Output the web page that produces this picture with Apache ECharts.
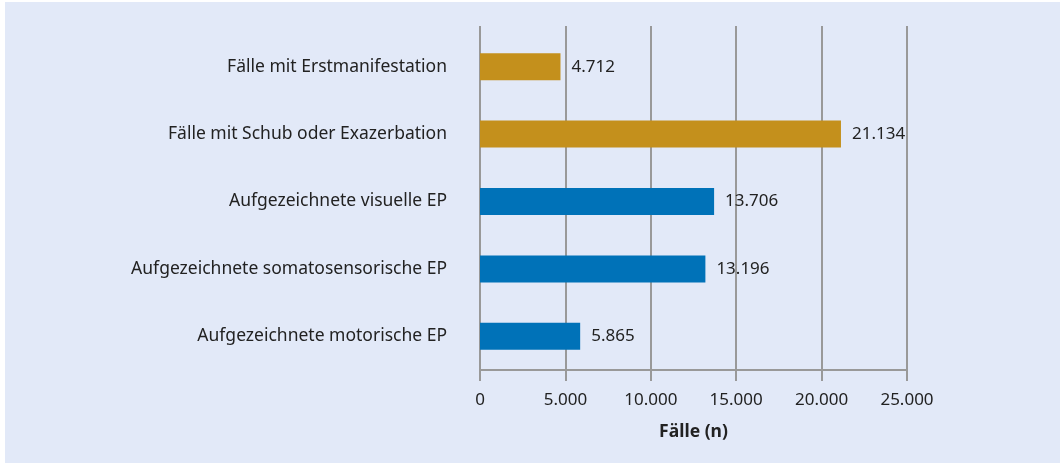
<!DOCTYPE html>
<html>
<head>
<meta charset="utf-8">
<script src="https://cdn.jsdelivr.net/npm/echarts@6/dist/echarts.min.js"></script>
<style>
  html, body { margin: 0; padding: 0; background: #ffffff; }
  #chart {
    position: absolute;
    left: 5px; top: 2px;
    width: 1055px; height: 461px;
    background: #e2e9f8;
  }
</style>
</head>
<body>
<div id="chart"></div>
<script>
  // Kategorien (von oben nach unten)
  var categories = [
    'Fälle mit Erstmanifestation',
    'Fälle mit Schub oder Exazerbation',
    'Aufgezeichnete visuelle EP',
    'Aufgezeichnete somatosensorische EP',
    'Aufgezeichnete motorische EP'
  ];
  var values = [4712, 21134, 13706, 13196, 5865];
  var barColors = ['#c4901c', '#c4901c', '#0072b8', '#0072b8', '#0072b8'];
  var xTicks = [0, 5000, 10000, 15000, 20000, 25000];

  function fmt(v) {
    return String(v).replace(/\B(?=(\d{3})+(?!\d))/g, '.');
  }

  var font = 'Noto Sans';
  var chart = echarts.init(document.getElementById('chart'));

  var barData = values.map(function (v, i) {
    return { value: v, itemStyle: { color: barColors[i] } };
  });

  chart.setOption({
    animation: false,
    textStyle: { fontFamily: font },
    grid: [
      { left: 475, width: 427, top: 31, height: 337 },
      { left: 475, width: 427, top: 24, height: 7 }
    ],
    xAxis: [
      {
        gridIndex: 0,
        type: 'value',
        min: xTicks[0],
        max: xTicks[xTicks.length - 1],
        interval: 5000,
        name: 'Fälle (n)',
        nameLocation: 'middle',
        nameGap: 53,
        nameTextStyle: { fontFamily: font, fontSize: 17.5, fontWeight: 'bold', color: '#222' },
        axisLine: { show: true, lineStyle: { color: '#999', width: 2 } },
        axisTick: { show: true, length: 11, lineStyle: { color: '#999', width: 2 } },
        axisLabel: { margin: 22, fontSize: 17, color: '#222', fontFamily: font, formatter: fmt },
        splitLine: { show: true, lineStyle: { color: '#999', width: 2 } }
      },
      {
        gridIndex: 1,
        type: 'value',
        min: xTicks[0],
        max: xTicks[xTicks.length - 1],
        interval: 5000,
        axisLine: { show: false },
        axisTick: { show: false },
        axisLabel: { show: false },
        splitLine: { show: true, lineStyle: { color: '#999', width: 2 } }
      }
    ],
    yAxis: [
      {
        gridIndex: 0,
        type: 'category',
        inverse: true,
        data: categories,
        axisLine: { show: false },
        axisTick: { show: false },
        axisLabel: { margin: 33, fontSize: 17.5, color: '#222', fontFamily: font }
      },
      {
        gridIndex: 1,
        type: 'category',
        data: [''],
        axisLine: { show: false },
        axisTick: { show: false },
        axisLabel: { show: false }
      }
    ],
    series: [
      {
        type: 'bar',
        xAxisIndex: 0,
        yAxisIndex: 0,
        data: barData,
        barWidth: 27,
        label: {
          show: true,
          position: 'right',
          distance: 11,
          fontSize: 17,
          fontFamily: font,
          color: '#222',
          formatter: function (p) { return fmt(p.value); }
        }
      }
    ]
  });
</script>
</body>
</html>
